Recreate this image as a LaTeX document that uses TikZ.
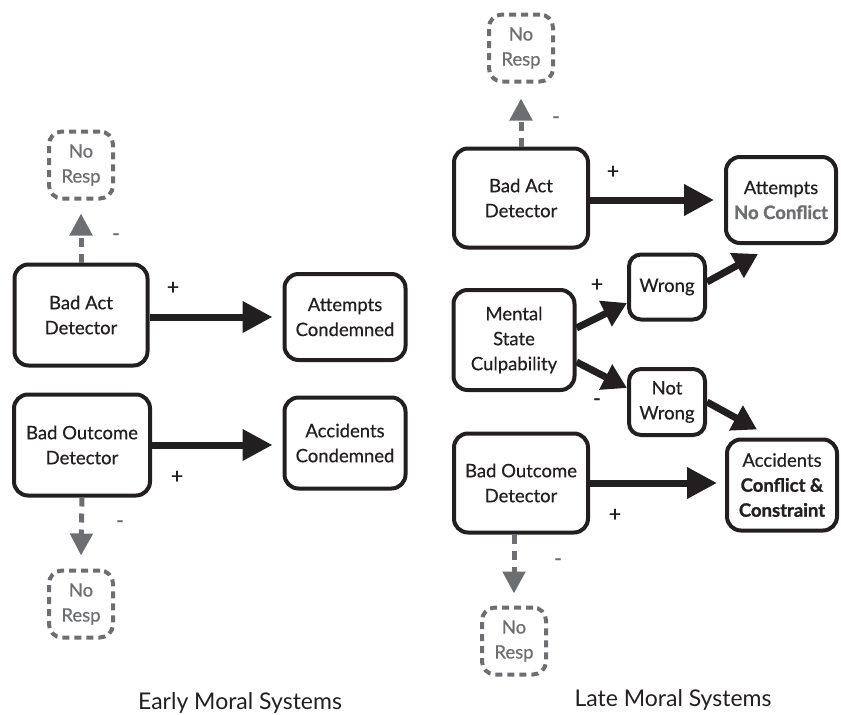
\documentclass[tikz,border=0pt]{standalone}
\usepackage{fontspec}
\setmainfont{Lato}
\newfontfamily\medlato{Lato}[FakeBold=0.5]
\newfontfamily\heavylato{Lato}[FakeBold=1.2]
\newcommand\bb[1]{{\heavylato\bfseries #1}}
\usetikzlibrary{arrows.meta,calc}
\definecolor{ink}{HTML}{231F20}
\definecolor{gr}{HTML}{6D6E71}
\begin{document}
\begin{tikzpicture}[x=1pt,y=-1pt,
 box/.style={draw=ink, line width=4pt, rounded corners=14pt, align=center, font=\medlato\fontsize{18.5}{25}\selectfont, text=ink, inner sep=0pt},
 nr/.style={draw=gr, line width=4pt, dash pattern=on 7pt off 5pt, rounded corners=13pt, align=center, text=gr, font=\medlato\fontsize{18.5}{25}\selectfont, minimum width=64pt, minimum height=67pt, inner sep=0pt},
 big/.style={-{Triangle[length=30pt,width=30pt]}, line width=7pt, draw=ink},
 med/.style={-{Triangle[length=24pt,width=27pt]}, line width=7pt, draw=ink},
 garr/.style={-{Triangle[length=22pt,width=22pt]}, line width=5pt, draw=gr, dash pattern=on 9pt off 7pt},
 sgn/.style={font=\medlato\fontsize{21}{22}\selectfont, text=ink, inner sep=0pt},
 gsgn/.style={font=\medlato\fontsize{21}{22}\selectfont, text=gr, inner sep=0pt},
 ttl/.style={font=\fontsize{23}{28}\selectfont, text=ink, inner sep=0pt, anchor=base}
]
\useasboundingbox (0,0) rectangle (841,715);
% ---- Early ----
\node[nr] (nr1) at (81,165) {No\\Resp};
\node[box, minimum width=133pt, minimum height=101pt] (bad1) at (81,315) {Bad Act\\Detector};
\node[box, minimum width=121pt, minimum height=86pt] (att1) at (345,317) {Attempts\\Condemned};
\node[box, minimum width=136pt, minimum height=101pt] (out1) at (82,445) {Bad Outcome\\Detector};
\node[box, minimum width=121pt, minimum height=91pt] (acc1) at (345,443) {Accidents\\Condemned};
\node[nr] (nr2) at (81,604) {No\\Resp};
\node[ttl] (t1) at (240,709) {Early Moral Systems};
\draw[big] (bad1.east |- att1.west) -- ($(att1.west)+(-10,0)$);
\draw[big] (out1.east) -- ($(out1.east -| acc1.west)+(-10,0)$);
\draw[garr] (bad1.north) -- ($(nr1.south)+(0,13)$);
\draw[garr] (out1.south) -- ($(nr2.north)+(0,-13)$);
\node[gsgn] (s1) at (116,237) {-};
\node[sgn] (s2) at (173,288) {+};
\node[sgn] (s3) at (177,477) {+};
\node[gsgn] (s4) at (120,524) {-};
% ---- Late ----
\node[nr] (nr3) at (521,48) {No\\Resp};
\node[box, minimum width=134pt, minimum height=99pt] (bad2) at (521,198) {Bad Act\\Detector};
\node[box, minimum width=110pt, minimum height=86pt] (att2) at (781,200) {Attempts\\\bb{\color{gr}No Conflict}};
\node[box, minimum width=76pt, minimum height=65pt, rounded corners=12pt] (wrong) at (667,287) {Wrong};
\node[box, minimum width=121pt, minimum height=100pt] (ms) at (514,340) {Mental\\State\\Culpability};
\node[box, minimum width=76pt, minimum height=66pt, rounded corners=12pt] (nw) at (667,402) {Not\\Wrong};
\node[box, minimum width=110pt, minimum height=91pt] (acc2) at (782,485) {Accidents\\\bb{Conflict \&}\\\bb{Constraint}};
\node[box, minimum width=134pt, minimum height=99pt] (out2) at (521,483) {Bad Outcome\\Detector};
\node[nr] (nr4) at (514,641) {No\\Resp};
\node[ttl] (t2) at (673,706) {Late Moral Systems};
\draw[big] (bad2.east |- att2.west) -- ($(att2.west)+(-10,0)$);
\draw[garr] (bad2.north) -- ($(nr3.south)+(0,15)$);
\draw[med] ($(ms.east)+(0,-12)$) -- ($(wrong.west)+(0,16)$);
\draw[med] ($(ms.east)+(0,22)$) -- ($(nw.west)+(0,-14)$);
\draw[med] ($(wrong.east)+(0,-5)$) -- ($(att2.south west)+(34,9)$);
\draw[med] (nw.east) -- ($(acc2.north west)+(32,-8)$);
\draw[big] (out2.east) -- ($(out2.east -| acc2.west)+(-8,0)$);
\draw[garr] (out2.south -| nr4.north) -- ($(nr4.north)+(0,-12)$);
\node[gsgn] (s5) at (556,120) {-};
\node[sgn] (s6) at (613,172) {+};
\node[sgn] (s7) at (597,285) {+};
\node[sgn] (s8) at (597,402) {-};
\node[sgn] (s9) at (615,515) {+};
\node[gsgn] (s10) at (558,562) {-};
\end{tikzpicture}
\end{document}
